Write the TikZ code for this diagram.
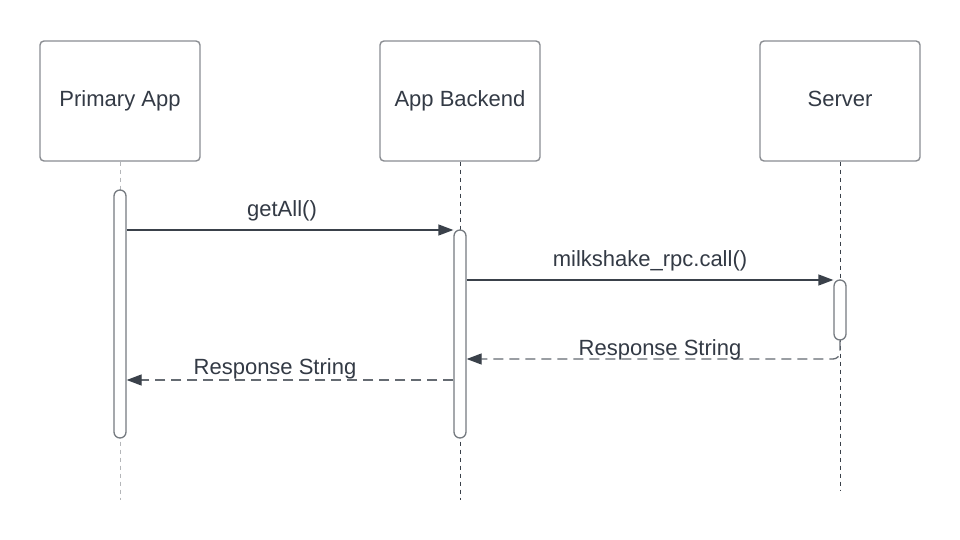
\documentclass[tikz,border=0pt]{standalone}
\usepackage{fontspec}
\setmainfont{Liberation Sans}
\usetikzlibrary{arrows.meta}
\definecolor{txt}{HTML}{333A45}
\definecolor{boxline}{HTML}{8A8D92}
\definecolor{lineclr}{HTML}{3A414A}
\definecolor{lightlife}{HTML}{B4B6B9}
\begin{document}
\begin{tikzpicture}[x=1pt,y=-1pt,
  actor/.style={draw=boxline,line width=1.4pt,rounded corners=4pt,fill=white,
    minimum width=160pt,minimum height=120pt,inner sep=0pt,text=txt,
    text height=16pt,text depth=4.5pt,
    font=\fontsize{22}{26}\selectfont},
  actbar/.style={draw=lineclr!70!white,line width=1.3pt,rounded corners=6pt,fill=white,
    minimum width=12pt,inner sep=0pt},
  life/.style={line width=1pt,dash pattern=on 4pt off 4pt},
  msg/.style={draw=lineclr,line width=1.3pt,-{Triangle[length=15pt,width=11pt,color=lineclr]}},
  reply/.style={msg,draw=lineclr!78!white,dash pattern=on 10pt off 6pt},
  lbl/.style={text=txt,font=\fontsize{22}{26}\selectfont,inner sep=0pt,
    text height=16pt,text depth=4.5pt}]
\useasboundingbox (0,0) rectangle (960,540);
\fill[white] (0,0) rectangle (960,540);

\node[actor] (pa) at (120,101) {Primary App};
\node[actor] (be) at (460,101) {App Backend};
\node[actor] (sv) at (840,101) {Server};

\coordinate (paend) at (120,500);
\coordinate (beend) at (460,500);
\coordinate (svend) at (840,490);

\draw[life,draw=lightlife] (pa.south) -- (paend);
\draw[life,draw=lineclr] (be.south) -- (beend);
\draw[life,draw=lineclr] (sv.south) -- (svend);

\node[actbar,minimum height=248pt] (pabar) at (120,314) {};
\node[actbar,minimum height=208pt] (bebar) at (460,334) {};
\node[actbar,minimum height=60pt] (svbar) at (840,310) {};

\draw[msg] (pabar.east |- 0,230) -- (bebar.west |- 0,230);
\node[lbl] (l1) at (282,211) {getAll()};

\draw[msg] (bebar.east |- 0,280) -- (svbar.west |- 0,280);
\node[lbl] (l2) at (650,261) {milkshake\_rpc.call()};

\draw[reply,rounded corners=7pt] (svbar.south) -- (840,359) -- (bebar.east |- 0,359);
\node[lbl] (l3) at (660,350) {Response String};

\draw[reply] (bebar.west |- 0,380) -- (pabar.east |- 0,380);
\node[lbl] (l4) at (275,369) {Response String};
\end{tikzpicture}
\end{document}
